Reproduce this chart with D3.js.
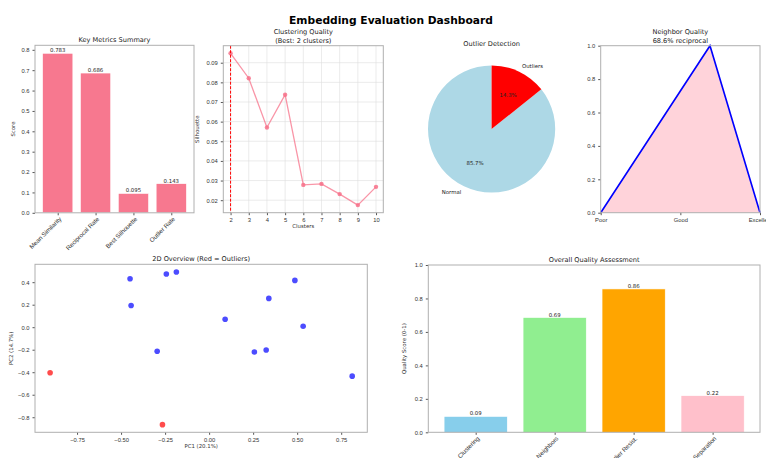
<!DOCTYPE html>
<html>
<head>
<meta charset="utf-8">
<script src="https://cdn.jsdelivr.net/npm/d3@7"></script>
<style>
  body { margin: 0; background: #fff; }
  svg { font-family: "DejaVu Sans", sans-serif; }
  .tick text { fill: #333; }
</style>
</head>
<body>
<svg id="chart" width="766" height="458"></svg>
<script>
// ---- data ----
var metricNames = ["Mean Similarity", "Reciprocal Rate", "Best Silhouette", "Outlier Rate"]
var metricValues = [0.783, 0.686, 0.095, 0.143]

var clusterCounts = [2, 3, 4, 5, 6, 7, 8, 9, 10]
var silhouette = [0.0948, 0.0821, 0.0570, 0.0737, 0.0278, 0.0283, 0.0231, 0.0175, 0.0268]
var bestK = 2

var pieLabels = ["Normal", "Outliers"]
var pieValues = [12, 2]

var neighborTicks = ["Poor", "Good", "Excellent"]
var neighborX = [0, 1.372, 2]
var neighborY = [0, 1, 0]

var pc1 = [-0.449, -0.243, -0.186, -0.443, 0.487, 0.339, 0.091, 0.534, -0.295, 0.257, 0.324, 0.8125, -0.903, -0.265]
var pc2 = [0.431, 0.473, 0.491, 0.193, 0.416, 0.256, 0.071, 0.009, -0.214, -0.220, -0.203, -0.435, -0.405, -0.866]
var isOutlier = [0, 0, 0, 0, 0, 0, 0, 0, 0, 0, 0, 0, 1, 1]

var qualityNames = ["Clustering", "Neighbors", "Outlier Resist.", "Separation"]
var qualityValues = [0.0948, 0.686, 0.857, 0.219]
var qualityColors = ["skyblue", "lightgreen", "orange", "pink"]

var svg = d3.select("#chart")
var fs = 5.8      // tick font
var lfs = 5.4     // value labels
var rfs = 6.2     // rotated category labels
var tfs = 6.6     // title font
var spine = "#b0b0b0"

svg.append("text")
    .attr("x", 391).attr("y", 24)
    .attr("text-anchor", "middle")
    .style("font-weight", "bold")
    .style("font-size", "10.7px")
    .text("Embedding Evaluation Dashboard")

function frame(g, w, h) {
    g.append("rect").attr("width", w).attr("height", h)
        .attr("fill", "none").attr("stroke", spine).attr("stroke-width", 1)
}

function styleAxis(sel) {
    sel.selectAll(".domain").remove()
    sel.selectAll(".tick line").attr("stroke", "#555")
    sel.selectAll(".tick text").style("font-size", fs + "px")
}

function rotateLabels(xa) {
    xa.selectAll(".tick text").attr("text-anchor", "end").style("font-size", rfs + "px")
        .attr("transform", "translate(1,4) rotate(-45)").attr("dy", "0.6em").attr("y", 0).attr("x", 0)
}

function title(g, w, lines, y) {
    lines.forEach(function (t, i) {
        g.append("text").attr("x", w / 2).attr("y", y + i * 8.3)
            .attr("text-anchor", "middle").style("font-size", tfs + "px").attr("fill", "#222")
            .text(t)
    })
}

function ylabel(g, h, t, off) {
    g.append("text").attr("transform", "translate(" + (-off) + "," + (h / 2) + ") rotate(-90)")
        .attr("text-anchor", "middle").style("font-size", lfs + "px").attr("fill", "#333").text(t)
}

function xlabel(g, w, h, t, off) {
    g.append("text").attr("x", w / 2).attr("y", h + off)
        .attr("text-anchor", "middle").style("font-size", lfs + "px").attr("fill", "#333").text(t)
}

// ---- panel 1: key metrics ----
;(function () {
    var w = 159, h = 167.5
    var g = svg.append("g").attr("transform", "translate(35,45.3)")
    var x = d3.scaleLinear().domain([-0.6, 3.6]).range([0, w])
    var y = d3.scaleLinear().domain([0, 0.783 * 1.05]).range([h, 0])
    g.selectAll(".bar").data(metricValues).enter().append("rect")
        .attr("x", (d, i) => x(i - 0.4))
        .attr("width", x(0.8) - x(0))
        .attr("y", d => y(d))
        .attr("height", d => h - y(d))
        .attr("fill", "#f77189").attr("fill-opacity", 0.95)
        .attr("stroke", "#fff").attr("stroke-width", 0.6)
    g.selectAll(".lab").data(metricValues).enter().append("text")
        .attr("x", (d, i) => x(i)).attr("y", d => y(d) - 1)
        .attr("text-anchor", "middle").style("font-size", lfs + "px").attr("fill", "#222")
        .text(d => d.toFixed(3))
    var ya = g.append("g").call(d3.axisLeft(y).tickValues(d3.range(0, 0.81, 0.1)).tickSize(2.5).tickFormat(d3.format(".1f")))
    styleAxis(ya)
    var xa = g.append("g").attr("transform", "translate(0," + h + ")")
        .call(d3.axisBottom(x).tickValues([0, 1, 2, 3]).tickSize(2.5).tickFormat(i => metricNames[i]))
    styleAxis(xa)
    rotateLabels(xa)
    frame(g, w, h)
    title(g, w, ["Key Metrics Summary"], -3)
    ylabel(g, h, "Score", 20)
})()

// ---- panel 2: clustering quality ----
;(function () {
    var w = 160, h = 167
    var g = svg.append("g").attr("transform", "translate(223.3,45.7)")
    var x = d3.scaleLinear().domain([1.6, 10.4]).range([0, w])
    var lo = d3.min(silhouette), hi = d3.max(silhouette), m = (hi - lo) * 0.05
    var y = d3.scaleLinear().domain([lo - m, hi + m]).range([h, 0])
    var xt = clusterCounts, yt = [0.02, 0.03, 0.04, 0.05, 0.06, 0.07, 0.08, 0.09]
    g.selectAll(".gx").data(xt).enter().append("line")
        .attr("x1", d => x(d)).attr("x2", d => x(d)).attr("y1", 0).attr("y2", h)
        .attr("stroke", "#ddd").attr("stroke-width", 0.6)
    g.selectAll(".gy").data(yt).enter().append("line")
        .attr("y1", d => y(d)).attr("y2", d => y(d)).attr("x1", 0).attr("x2", w)
        .attr("stroke", "#ddd").attr("stroke-width", 0.6)
    var pts = clusterCounts.map((k, i) => [k, silhouette[i]])
    g.append("path").datum(pts)
        .attr("d", d3.line().x(d => x(d[0])).y(d => y(d[1])))
        .attr("fill", "none").attr("stroke", "#f77189").attr("stroke-opacity", 0.75).attr("stroke-width", 1.3)
    g.selectAll(".pt").data(pts).enter().append("circle")
        .attr("cx", d => x(d[0])).attr("cy", d => y(d[1])).attr("r", 2.2)
        .attr("fill", "#f77189").attr("fill-opacity", 0.85)
    g.append("line").attr("x1", x(bestK)).attr("x2", x(bestK)).attr("y1", 0).attr("y2", h)
        .attr("stroke", "red").attr("stroke-width", 1).attr("stroke-dasharray", "3,1.5")
    var ya = g.append("g").call(d3.axisLeft(y).tickValues(yt).tickSize(2.5).tickFormat(d3.format(".2f")))
    styleAxis(ya)
    var xa = g.append("g").attr("transform", "translate(0," + h + ")")
        .call(d3.axisBottom(x).tickValues(xt).tickSize(2.5).tickFormat(d3.format("d")))
    styleAxis(xa)
    frame(g, w, h)
    title(g, w, ["Clustering Quality", "(Best: " + bestK + " clusters)"], -11.5)
    ylabel(g, h, "Silhouette", 24)
    xlabel(g, w, h, "Clusters", 15.5)
})()

// ---- panel 3: outlier pie ----
;(function () {
    var cx = 491.6, cy = 129, r = 63.6
    var g = svg.append("g").attr("transform", "translate(" + cx + "," + cy + ")")
    var pie = d3.pie().sort(null)
        .startAngle(0).endAngle(-2 * Math.PI)   // counter-clockwise from top
    var arcs = pie(pieValues)
    var arc = d3.arc().innerRadius(0).outerRadius(r)
    var cols = ["lightblue", "red"]
    g.selectAll(".sl").data(arcs).enter().append("path")
        .attr("d", arc).attr("fill", (d, i) => cols[i])
    var total = d3.sum(pieValues)
    arcs.forEach(function (a, i) {
        var mid = (a.startAngle + a.endAngle) / 2
        var sx = Math.sin(mid), sy = -Math.cos(mid)
        g.append("text").attr("x", sx * r * 1.1).attr("y", sy * r * 1.1).attr("dy", "0.35em")
            .attr("text-anchor", sx < 0 ? "end" : "start")
            .style("font-size", lfs + "px").attr("fill", "#222").text(pieLabels[i])
        g.append("text").attr("x", sx * r * 0.6).attr("y", sy * r * 0.6).attr("dy", "0.35em")
            .attr("text-anchor", "middle")
            .style("font-size", lfs + "px").attr("fill", "#222")
            .text((pieValues[i] / total * 100).toFixed(1) + "%")
    })
    g.append("text").attr("x", 0).attr("y", -r * 1.25 - 4)
        .attr("text-anchor", "middle").style("font-size", tfs + "px").attr("fill", "#222")
        .text("Outlier Detection")
})()

// ---- panel 4: neighbor quality ----
;(function () {
    var w = 159.3, h = 167
    var g = svg.append("g").attr("transform", "translate(600.7,45.7)")
    var x = d3.scaleLinear().domain([0, 2]).range([0, w])
    var y = d3.scaleLinear().domain([0, 1]).range([h, 0])
    var pts = neighborX.map((v, i) => [v, neighborY[i]])
    g.append("path").datum(pts)
        .attr("d", d3.area().x(d => x(d[0])).y0(h).y1(d => y(d[1])))
        .attr("fill", "pink").attr("fill-opacity", 0.7)
    g.append("path").datum(pts)
        .attr("d", d3.line().x(d => x(d[0])).y(d => y(d[1])))
        .attr("fill", "none").attr("stroke", "blue").attr("stroke-width", 1.6)
    var ya = g.append("g").call(d3.axisLeft(y).ticks(5).tickSize(2.5).tickFormat(d3.format(".1f")))
    styleAxis(ya)
    var xa = g.append("g").attr("transform", "translate(0," + h + ")")
        .call(d3.axisBottom(x).tickValues([0, 1, 2]).tickSize(2.5).tickFormat(i => neighborTicks[i]))
    styleAxis(xa)
    frame(g, w, h)
    title(g, w, ["Neighbor Quality", (metricValues[1] * 100).toFixed(1) + "% reciprocal"], -11.5)
})()

// ---- panel 5: 2D overview ----
;(function () {
    var w = 332.3, h = 168
    var g = svg.append("g").attr("transform", "translate(35,264.3)")
    var xlo = d3.min(pc1), xhi = d3.max(pc1), xm = (xhi - xlo) * 0.05
    var ylo = d3.min(pc2), yhi = d3.max(pc2), ym = (yhi - ylo) * 0.05
    var x = d3.scaleLinear().domain([xlo - xm, xhi + xm]).range([0, w])
    var y = d3.scaleLinear().domain([ylo - ym, yhi + ym]).range([h, 0])
    g.selectAll(".dot").data(pc1).enter().append("circle")
        .attr("cx", d => x(d)).attr("cy", (d, i) => y(pc2[i])).attr("r", 2.8)
        .attr("fill", (d, i) => isOutlier[i] ? "red" : "blue").attr("fill-opacity", 0.7)
    var ya = g.append("g").call(d3.axisLeft(y).tickValues([-0.8, -0.6, -0.4, -0.2, 0, 0.2, 0.4]).tickSize(2.5).tickFormat(d3.format(".1f")))
    styleAxis(ya)
    ya.selectAll(".tick text").text(d => d3.format(".1f")(d).replace("-", "\u2212"))
    var xa = g.append("g").attr("transform", "translate(0," + h + ")")
        .call(d3.axisBottom(x).tickValues([-0.75, -0.5, -0.25, 0, 0.25, 0.5, 0.75]).tickSize(2.5))
    styleAxis(xa)
    xa.selectAll(".tick text").text(d => d3.format(".2f")(d).replace("-", "\u2212"))
    frame(g, w, h)
    title(g, w, ["2D Overview (Red = Outliers)"], -3)
    ylabel(g, h, "PC2 (14.7%)", 22)
    xlabel(g, w, h, "PC1 (20.1%)", 15.5)
})()

// ---- panel 6: overall quality ----
;(function () {
    var w = 331.7, h = 167.3
    var g = svg.append("g").attr("transform", "translate(428.3,265)")
    var x = d3.scaleLinear().domain([-0.6, 3.6]).range([0, w])
    var y = d3.scaleLinear().domain([0, 1]).range([h, 0])
    g.selectAll(".bar").data(qualityValues).enter().append("rect")
        .attr("x", (d, i) => x(i - 0.4))
        .attr("width", x(0.8) - x(0))
        .attr("y", d => y(d))
        .attr("height", d => h - y(d))
        .attr("fill", (d, i) => qualityColors[i])
        .attr("stroke", "#fff").attr("stroke-width", 0.6)
    g.selectAll(".lab").data(qualityValues).enter().append("text")
        .attr("x", (d, i) => x(i)).attr("y", d => y(d) - 1)
        .attr("text-anchor", "middle").style("font-size", lfs + "px").attr("fill", "#222")
        .text(d => d.toFixed(2))
    var ya = g.append("g").call(d3.axisLeft(y).ticks(5).tickSize(2.5).tickFormat(d3.format(".1f")))
    styleAxis(ya)
    var xa = g.append("g").attr("transform", "translate(0," + h + ")")
        .call(d3.axisBottom(x).tickValues([0, 1, 2, 3]).tickSize(2.5).tickFormat(i => qualityNames[i]))
    styleAxis(xa)
    rotateLabels(xa)
    frame(g, w, h)
    title(g, w, ["Overall Quality Assessment"], -3)
    ylabel(g, h, "Quality Score (0-1)", 22)
})()
</script>
</body>
</html>
